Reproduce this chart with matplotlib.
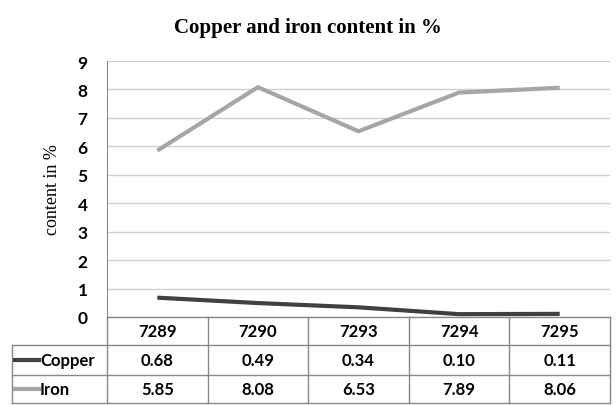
import matplotlib.pyplot as plt
from matplotlib.lines import Line2D

samples = ['7289', '7290', '7293', '7294', '7295']
copper = [0.68, 0.49, 0.34, 0.10, 0.11]
iron = [5.85, 8.08, 6.53, 7.89, 8.06]
series_names = ['Copper', 'Iron']
series_colors = ['#404040', '#a6a6a6']

W, H = 616, 406
fig = plt.figure(figsize=(W / 100, H / 100), dpi=100)

# plot area in pixel coords
x0, x1 = 107, 610
y_top, y_zero = 62, 318
ax = fig.add_axes([x0 / W, 1 - y_zero / H, (x1 - x0) / W, (y_zero - y_top) / H])

xs = list(range(len(samples)))
for vals, c in zip([copper, iron], series_colors):
    ax.plot(xs, vals, color=c, lw=3, solid_capstyle='butt')

ax.set_xlim(-0.5, len(samples) - 0.5)
ax.set_ylim(0, 9)
ax.set_yticks(range(10))
ax.set_xticks([])
ax.yaxis.grid(True, color='#d0d0d0', lw=1)
ax.set_axisbelow(True)
for s in ['top', 'right', 'bottom']:
    ax.spines[s].set_visible(False)
ax.spines['left'].set_color('#888888')
ax.tick_params(axis='y', length=0, pad=14, labelsize=12.5)
for lab in ax.get_yticklabels():
    lab.set_fontfamily('Lato')
    lab.set_fontweight('bold')

ax.set_ylabel('content in %', family='Liberation Serif', fontsize=13, labelpad=12)

fig.text(308 / W, 1 - 28 / H, 'Copper and iron content in %', ha='center', va='center',
         family='Liberation Serif', fontweight='bold', fontsize=15)

# data table below the plot
rows_y = [318, 346, 376, 404]
col_w = (x1 - x0) / len(samples)
lc = '#888888'

def px(x, y):
    return x / W, 1 - y / H

def hline(xa, xb, y):
    fig.add_artist(Line2D([xa / W, xb / W], [1 - y / H, 1 - y / H], color=lc, lw=1))

def vline(x, ya, yb):
    fig.add_artist(Line2D([x / W, x / W], [1 - ya / H, 1 - yb / H], color=lc, lw=1))

hline(x0, x1, rows_y[0])
for y in rows_y[1:]:
    hline(12, x1, y)
for i in range(len(samples) + 1):
    vline(x0 + i * col_w, rows_y[0], rows_y[3])
vline(12, rows_y[1], rows_y[3])

for i, s in enumerate(samples):
    cx = x0 + (i + 0.5) * col_w
    fig.text(*px(cx, (rows_y[0] + rows_y[1]) / 2), s, ha='center', va='center',
             family='Lato', fontweight='bold', fontsize=12)
    for r, vals in enumerate([copper, iron]):
        cy = (rows_y[r + 1] + rows_y[r + 2]) / 2
        fig.text(*px(cx, cy), '%.2f' % vals[i], ha='center', va='center',
                 family='Lato', fontweight='bold', fontsize=12)

for r, (name, c) in enumerate(zip(series_names, series_colors)):
    cy = (rows_y[r + 1] + rows_y[r + 2]) / 2
    fig.add_artist(Line2D([15 / W, 39 / W], [1 - cy / H, 1 - cy / H], color=c, lw=3))
    fig.text(*px(40, cy), name, ha='left', va='center',
             family='Lato', fontweight='bold', fontsize=12)

fig.savefig('out.png', dpi=100)
